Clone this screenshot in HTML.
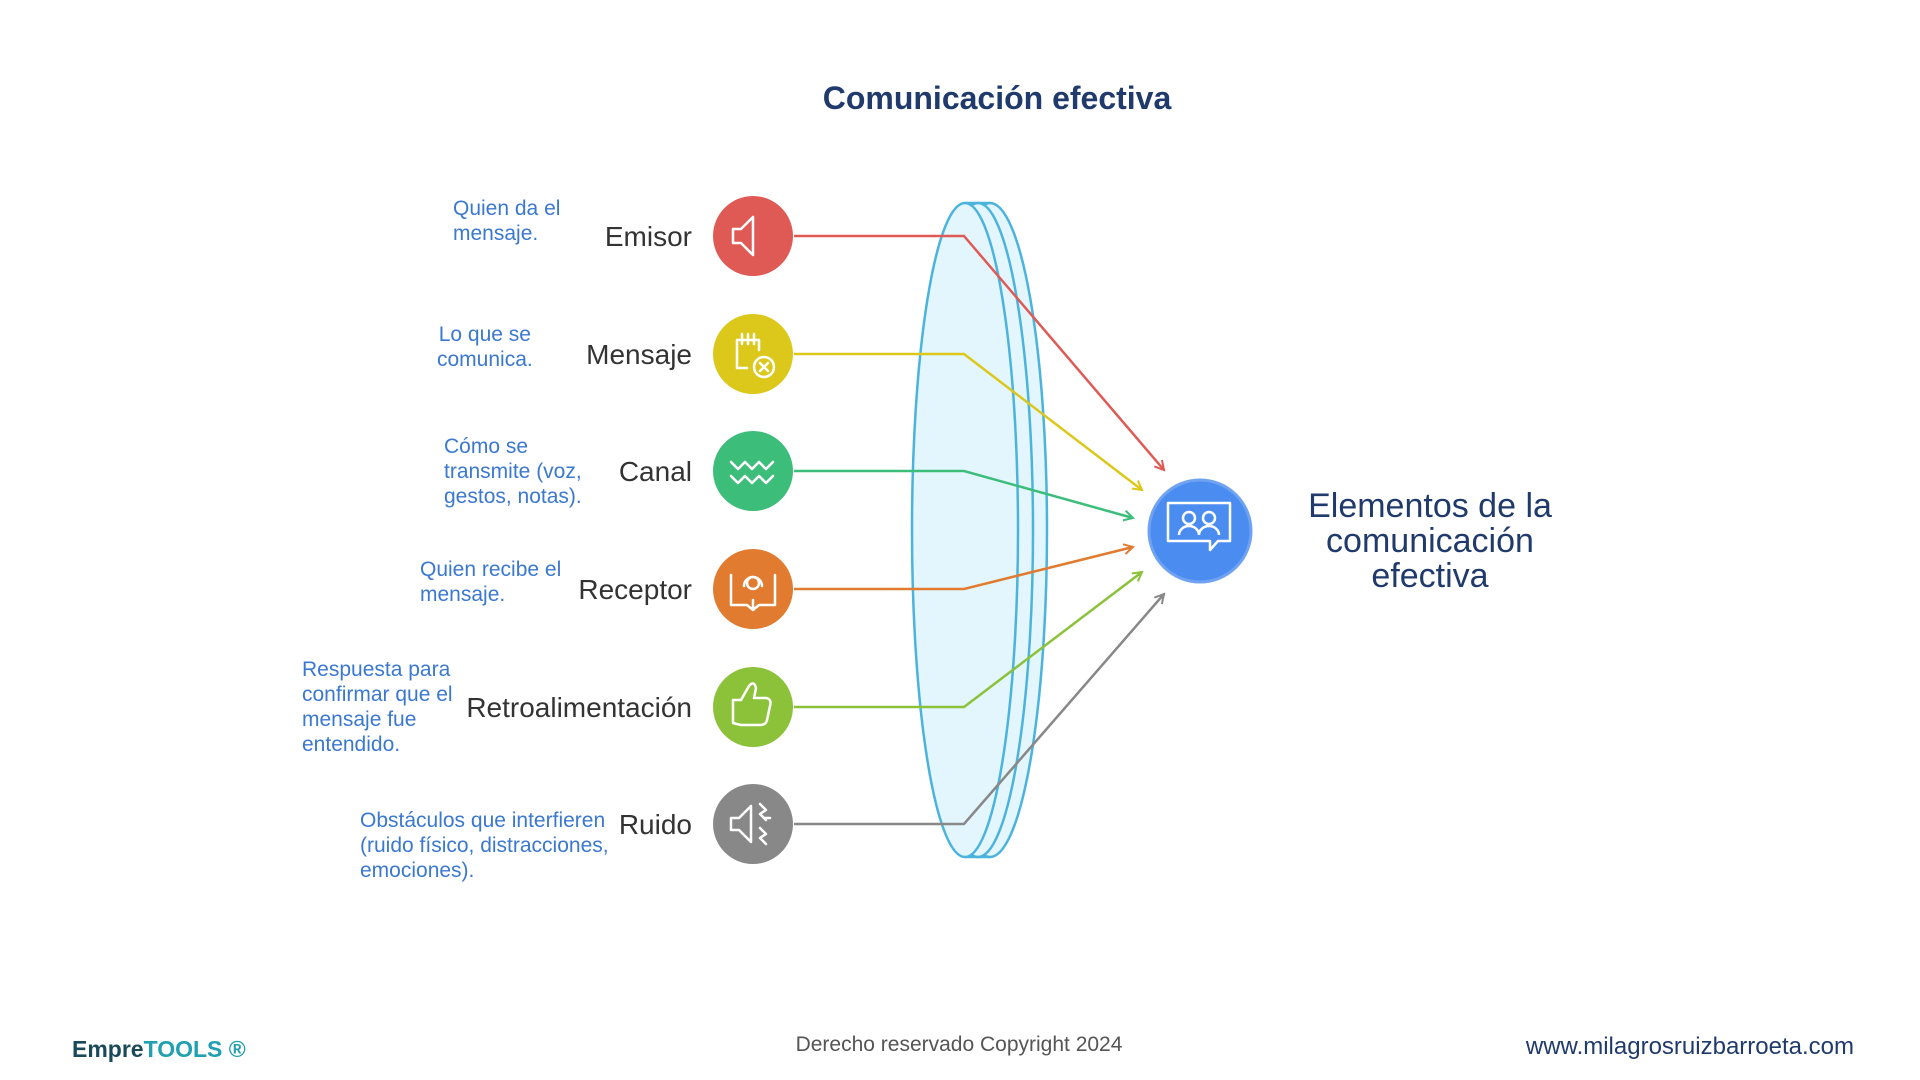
<!DOCTYPE html>
<html><head><meta charset="utf-8">
<style>
html,body{margin:0;padding:0;background:#fff;}
body{width:1920px;height:1080px;position:relative;overflow:hidden;font-family:"Liberation Sans",sans-serif;}
.t{position:absolute;white-space:nowrap;}
.lbl{position:absolute;right:1228px;font-size:28px;color:#333;line-height:32px;}
.d{position:absolute;font-size:21px;line-height:25px;color:#3b78d0;white-space:nowrap;}
</style></head><body>
<div class="t" style="left:0;width:1994px;text-align:center;top:80px;font-size:32px;font-weight:bold;color:#1f3a6b;">Comunicación efectiva</div>

<svg width="1920" height="1080" style="position:absolute;left:0;top:0">
<defs>
<marker id="a" viewBox="0 0 12 12" refX="10" refY="6" markerWidth="12" markerHeight="12" markerUnits="userSpaceOnUse" orient="auto"><path d="M1,1 L10,6 L1,11" fill="none" stroke="context-stroke" stroke-width="2"/></marker>
</defs>
<ellipse cx="990" cy="530" rx="57" ry="327" fill="#e3f6fd" stroke="#4bb3de" stroke-width="2.5"/>
<ellipse cx="978" cy="530" rx="55" ry="327" fill="#e3f6fd" stroke="#4bb3de" stroke-width="2.5"/>
<ellipse cx="965" cy="530" rx="53" ry="327" fill="#e3f6fd" stroke="#4bb3de" stroke-width="2.5"/>
<line x1="965" y1="203" x2="990" y2="203" stroke="#4bb3de" stroke-width="2.5"/>
<line x1="965" y1="857" x2="990" y2="857" stroke="#4bb3de" stroke-width="2.5"/>
<g fill="none" stroke-width="2.5">
<polyline points="794,236 964,236 1164,470" stroke="#e05a55" marker-end="url(#a)"/>
<polyline points="794,354 964,354 1142,490" stroke="#dcc81a" marker-end="url(#a)"/>
<polyline points="794,471 964,471 1133,518" stroke="#3dbd7a" marker-end="url(#a)"/>
<polyline points="794,589 964,589 1133,547" stroke="#e07b30" marker-end="url(#a)"/>
<polyline points="794,707 964,707 1142,572" stroke="#8cc23a" marker-end="url(#a)"/>
<polyline points="794,824 964,824 1164,594" stroke="#888" marker-end="url(#a)"/>
</g>
<circle cx="753" cy="236" r="40" fill="#e05a55"/>
<circle cx="753" cy="354" r="40" fill="#dcc81a"/>
<circle cx="753" cy="471" r="40" fill="#3dbd7a"/>
<circle cx="753" cy="589" r="40" fill="#e07b30"/>
<circle cx="753" cy="707" r="40" fill="#8cc23a"/>
<circle cx="753" cy="824" r="40" fill="#888"/>
<g fill="none" stroke="#fff" stroke-width="2.5" stroke-linejoin="round" stroke-linecap="round">
<path d="M733,229 h8 l12,-12 v38 l-12,-12 h-8 z"/>
<path d="M737,340 h22 v10 M737,340 v28 h10 M742,334 v10 M748,334 v10 M754,334 v10"/>
<circle cx="764" cy="367" r="10"/><path d="M760,363 l8,8 M768,363 l-8,8"/>
<path d="M731,462 l7,7 l7,-7 l7,7 l7,-7 l7,7 l7,-7 M731,476 l7,7 l7,-7 l7,7 l7,-7 l7,7 l7,-7"/>
<path d="M731,575 v30 h16 l6,5 l6,-5 h16 v-30 M753,600 v10"/>
<circle cx="753" cy="583" r="6"/><path d="M744,586 a9,9 0 0 1 18,0"/>
<path d="M733,700 h8 l8,-14 q5,-6 7,2 l-2,10 h12 q6,1 4,8 l-3,14 q-1,5 -7,5 h-19 l-8,-2 z"/>
<path d="M731,818 h8 l12,-12 v36 l-12,-12 h-8 z M760,804 l6,6 l-6,4 l6,6 M760,828 l6,6 l-6,4 l6,6 M764,818 h6"/>
</g>
<circle cx="1200" cy="531" r="51" fill="#4a8cf0" stroke="#6fa3f2" stroke-width="3"/>
<g fill="none" stroke="#fff" stroke-width="2.5" stroke-linejoin="round">
<path d="M1168,503 h62 v38 h-12 l-8,9 v-9 h-42 z"/>
<circle cx="1189" cy="518" r="6"/><circle cx="1209" cy="518" r="6"/>
<path d="M1179,535 a10,9 0 0 1 20,0 M1199,535 a10,9 0 0 1 20,0"/>
</g>
</svg>

<div class="lbl" style="top:221px">Emisor</div>
<div class="lbl" style="top:339px">Mensaje</div>
<div class="lbl" style="top:456px">Canal</div>
<div class="lbl" style="top:574px">Receptor</div>
<div class="lbl" style="top:692px">Retroalimentación</div>
<div class="lbl" style="top:809px">Ruido</div>

<div class="d" style="left:453px;top:196px">Quien da el<br>mensaje.</div>
<div class="d" style="left:437px;top:322px;text-align:center">Lo que se<br>comunica.</div>
<div class="d" style="left:444px;top:434px">Cómo se<br>transmite (voz,<br>gestos, notas).</div>
<div class="d" style="left:420px;top:557px">Quien recibe el<br>mensaje.</div>
<div class="d" style="left:302px;top:657px">Respuesta para<br>confirmar que el<br>mensaje fue<br>entendido.</div>
<div class="d" style="left:360px;top:808px">Obstáculos que interfieren<br>(ruido físico, distracciones,<br>emociones).</div>

<div class="t" style="left:1230px;width:400px;text-align:center;top:489px;font-size:34px;line-height:35px;color:#1f3a6b;white-space:normal;">Elementos de la<br>comunicación<br>efectiva</div>

<div class="t" style="left:72px;top:1036px;font-size:23px;font-weight:bold;color:#1a4a5a;">Empre<span style="color:#20a0b0">TOOLS ®</span></div>
<div class="t" style="left:0;width:1918px;text-align:center;top:1033px;font-size:21px;color:#555;">Derecho reservado Copyright 2024</div>
<div class="t" style="right:66px;top:1033px;font-size:24px;color:#1f3a6b;">www.milagrosruizbarroeta.com</div>
</body></html>
